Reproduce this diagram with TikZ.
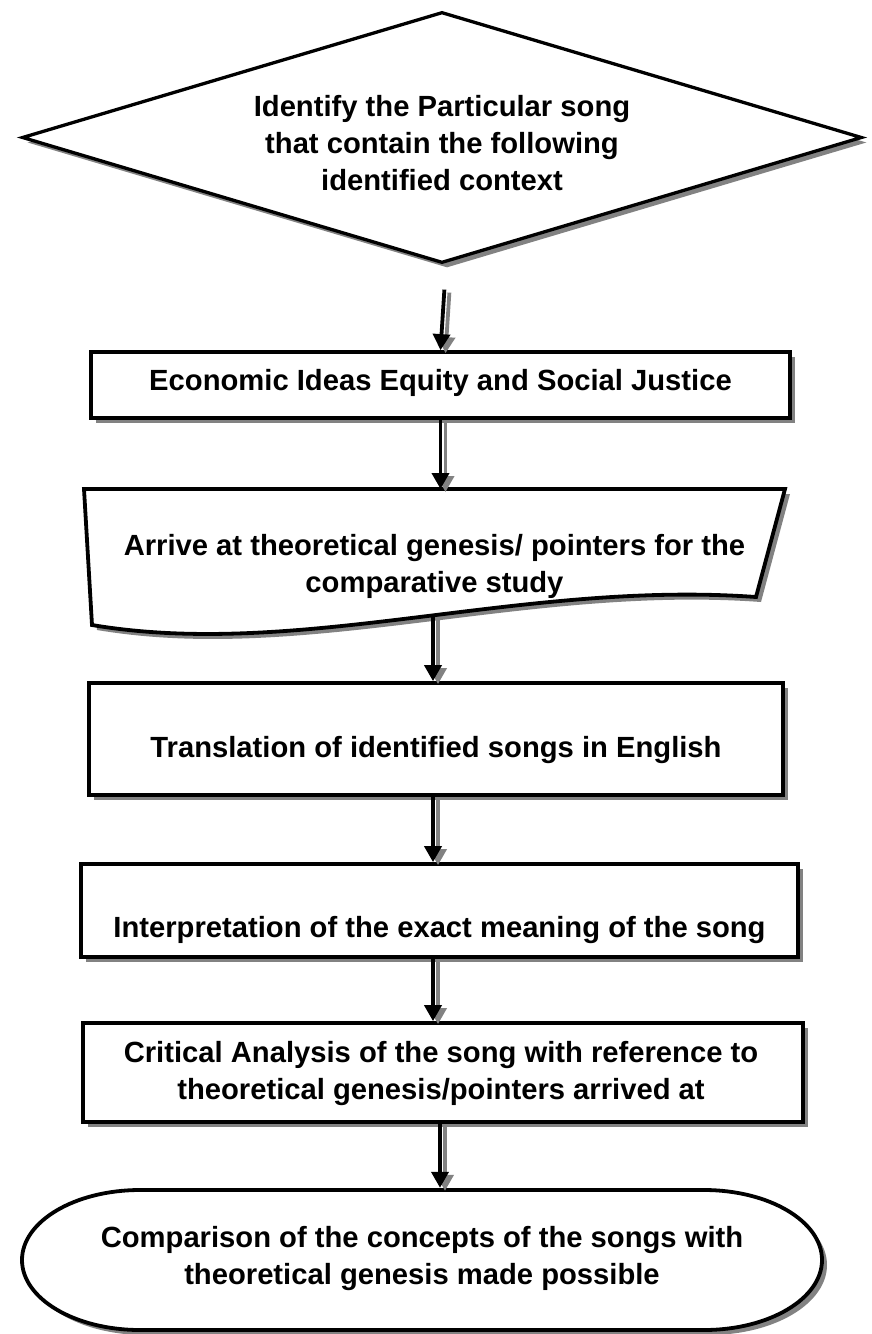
\documentclass[tikz,border=0pt]{standalone}
\usepackage{fontspec}
\setmainfont{Liberation Sans}
\usetikzlibrary{shapes.geometric,shadows,arrows.meta}
\definecolor{shade}{RGB}{130,130,130}

\begin{document}
\begin{tikzpicture}[x=1pt,y=-1pt,
  txt/.style={font=\fontsize{29.2}{37}\selectfont\bfseries, align=center, inner sep=0pt},
  frame/.style={draw, line width=3.8pt, fill=white,
    drop shadow={shadow xshift=5pt, shadow yshift=-5pt, fill=shade, opacity=1}},
  box/.style={frame, rectangle, inner sep=0pt},
  arr/.style={line width=3.8pt, -{Triangle[width=17pt,length=16pt]}},
  arrsh/.style={arr, draw=shade, fill=shade, transform canvas={xshift=5pt,yshift=-3pt}}]
\useasboundingbox (0,0) rectangle (872,1334);

\node[diamond, frame, line width=3.3pt, inner sep=0pt, minimum width=840pt, minimum height=251pt] (dia) at (442,137.5) {};
\node[txt] (t0) at (442,143) {Identify the Particular song\\that contain the following\\identified context};

\node[box, minimum width=699pt, minimum height=66pt] (b1) at (440.5,385) {};
\node[txt] (t1) at (440.5,383) {Economic Ideas Equity and Social Justice};

\draw[frame] (84,489) -- (785,489) -- (756,597) .. controls (520,580) and (300,660) .. (92,625) -- cycle;
\coordinate (docT) at (440.5,489);
\coordinate (docB) at (433,617);
\node[txt] (doc) at (434.5,566) {Arrive at theoretical genesis/ pointers for the\\comparative study};

\node[box, minimum width=694pt, minimum height=112pt] (b2) at (436,739) {};
\node[txt] (t2) at (436,750) {Translation of identified songs in English};

\node[box, minimum width=717pt, minimum height=93pt] (b3) at (439.5,910.5) {};
\node[txt] (t3) at (439.5,930) {Interpretation of the exact meaning of the song};

\node[box, minimum width=720pt, minimum height=99pt] (b4) at (443,1072.5) {};
\node[txt] (t4) at (441,1073) {Critical Analysis of the song with reference to\\theoretical genesis/pointers arrived at};

\draw[frame] (140,1190) -- (704,1190) arc[start angle=90, end angle=-90, x radius=118pt, y radius=70pt]
  -- (140,1330) arc[start angle=270, end angle=90, x radius=118pt, y radius=70pt] -- cycle;
\node[txt, minimum width=800pt, minimum height=140pt] (ell) at (422,1258) {Comparison of the concepts of the songs with\\theoretical genesis made possible};

\draw[arrsh, shorten <=25pt] ([xshift=4pt]dia.south) -- (b1.north);
\draw[arr, shorten <=25pt] ([xshift=4pt]dia.south) -- (b1.north);
\draw[arrsh] (b1.south) -- (docT);
\draw[arr] (b1.south) -- (docT);
\draw[arrsh] (docB) -- (docB |- b2.north);
\draw[arr] (docB) -- (docB |- b2.north);
\draw[arrsh] (b2.south -| docB) -- (docB |- b3.north);
\draw[arr] (b2.south -| docB) -- (docB |- b3.north);
\draw[arrsh] (b3.south -| docB) -- (docB |- b4.north);
\draw[arr] (b3.south -| docB) -- (docB |- b4.north);
\draw[arrsh] (b4.south -| ell.north) ++(18,0) -- ([xshift=18pt]ell.north);
\draw[arr] (b4.south -| ell.north) ++(18,0) -- ([xshift=18pt]ell.north);
\end{tikzpicture}
\end{document}
